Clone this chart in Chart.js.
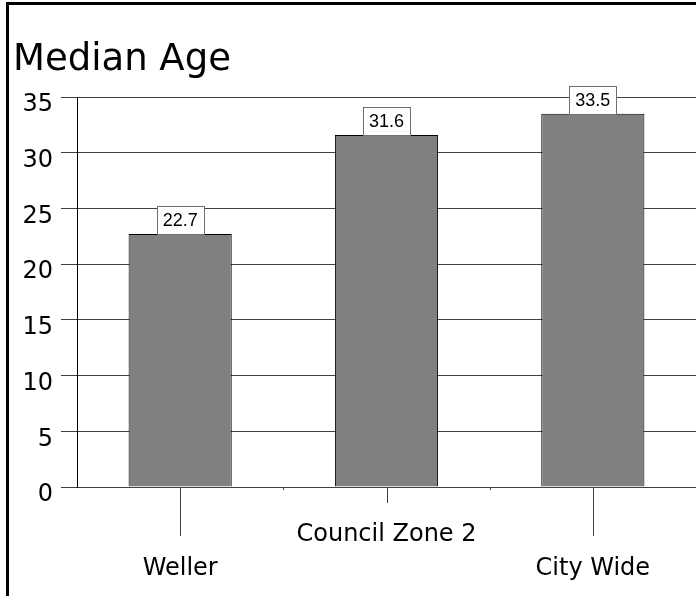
<!DOCTYPE html>
<html>
<head>
<meta charset="utf-8">
<script src="https://cdn.jsdelivr.net/npm/chart.js@4"></script>
<style>
html, body { margin: 0; padding: 0; background: #fff; }
</style>
</head>
<body>
<canvas id="chart" width="696" height="596"></canvas>
<script>
var categories = ['Weller', 'Council Zone 2', 'City Wide'];
var ages = [22.7, 31.6, 33.5];
var yTicks = [0, 5, 10, 15, 20, 25, 30, 35];

// outer frame (only top and left edge are visible in the picture)
var framePlugin = {
    id: 'frame',
    afterDraw: function(chart) {
        var ctx = chart.ctx;
        ctx.save();
        ctx.fillStyle = '#000';
        ctx.fillRect(6, 2, chart.width - 6, 3);
        ctx.fillRect(6, 2, 3, chart.height - 2);
        ctx.restore();
    }
};

// staggered tick marks under the categories
var xTickPlugin = {
    id: 'xTicks',
    afterDraw: function(chart) {
        var ctx = chart.ctx;
        var xs = chart.scales.x;
        ctx.save();
        ctx.strokeStyle = '#404040';
        ctx.lineWidth = 1;
        ctx.beginPath();
        for (var i = 0; i < categories.length; i++) {
            var px = Math.round(xs.getPixelForTick(i)) + 0.5;
            var len = (i % 2 === 0) ? 49 : 16;
            ctx.moveTo(px, xs.top);
            ctx.lineTo(px, xs.top + len);
            if (i < categories.length - 1) {
                var mid = Math.round((xs.getPixelForTick(i) + xs.getPixelForTick(i + 1)) / 2) + 0.5;
                ctx.moveTo(mid, xs.top);
                ctx.lineTo(mid, xs.top + 3);
            }
        }
        ctx.stroke();
        ctx.restore();
    }
};

// boxed value labels on top of the bars
var valuePlugin = {
    id: 'values',
    afterDatasetsDraw: function(chart) {
        var ctx = chart.ctx;
        var meta = chart.getDatasetMeta(0);
        ctx.save();
        ctx.font = '18px "Liberation Sans", Arial, sans-serif';
        ctx.textAlign = 'center';
        ctx.textBaseline = 'middle';
        meta.data.forEach(function(bar, i) {
            var txt = ages[i].toFixed(1);
            var w = Math.round(ctx.measureText(txt).width + 12);
            var h = 28;
            var x = Math.round(bar.x - w / 2);
            var y = Math.round(bar.y - h);
            ctx.fillStyle = '#fff';
            ctx.fillRect(x, y, w, h);
            ctx.strokeStyle = '#707070';
            ctx.lineWidth = 1;
            ctx.strokeRect(x + 0.5, y + 0.5, w, h);
            ctx.fillStyle = '#000';
            ctx.fillText(txt, bar.x, y + h / 2 + 1);
        });
        ctx.restore();
    }
};

var ctx = document.getElementById('chart').getContext('2d');
var chart = new Chart(ctx, {
    type: 'bar',
    data: {
        labels: categories,
        datasets: [{
            data: ages,
            backgroundColor: '#808080',
            borderColor: '#000',
            borderWidth: 1,
            categoryPercentage: 1,
            barPercentage: 0.5
        }]
    },
    options: {
        responsive: false,
        animation: false,
        devicePixelRatio: 1,
        layout: { padding: { left: 13, right: 0, top: 0, bottom: 0 } },
        plugins: {
            legend: { display: false },
            tooltip: { enabled: false },
            title: {
                display: true,
                text: 'Median Age',
                align: 'start',
                color: '#000',
                font: { family: '"DejaVu Sans", sans-serif', size: 37, weight: 'normal' },
                padding: { top: 38, bottom: 14.6 }
            }
        },
        scales: {
            y: {
                min: 0,
                max: 35,
                afterBuildTicks: function(scale) {
                    scale.ticks = yTicks.map(function(v) { return { value: v }; });
                },
                afterFit: function(scale) { scale.width = 64; },
                grid: {
                    color: '#404040',
                    tickLength: 16,
                    lineWidth: 1
                },
                border: { display: true, color: '#000', width: 1 },
                ticks: {
                    color: '#000',
                    padding: 8,
                    labelOffset: 8,
                    font: { family: '"DejaVu Sans", sans-serif', size: 24 }
                }
            },
            x: {
                afterFit: function(scale) { scale.height = 109; },
                grid: {
                    display: true,
                    drawOnChartArea: false,
                    drawTicks: true,
                    tickLength: 16,
                    tickColor: 'rgba(0,0,0,0)'
                },
                border: { display: false },
                ticks: {
                    color: '#000',
                    padding: 15,
                    maxRotation: 0,
                    minRotation: 0,
                    autoSkip: false,
                    font: { family: '"DejaVu Sans", sans-serif', size: 24, lineHeight: 34 / 24 },
                    callback: function(value, index) {
                        var label = categories[index];
                        return (index % 2 === 0) ? ['', label] : label;
                    }
                }
            }
        }
    },
    plugins: [framePlugin, xTickPlugin, valuePlugin]
});
</script>
</body>
</html>
